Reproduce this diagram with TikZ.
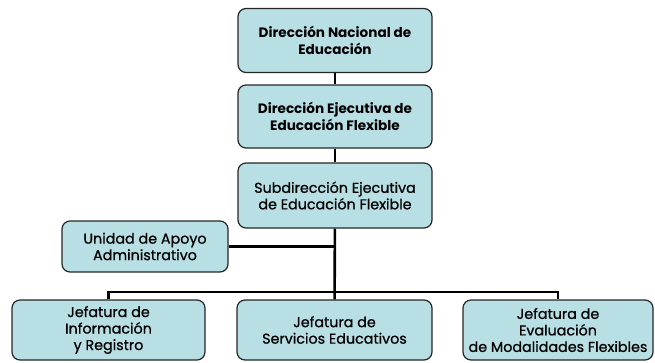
\documentclass[tikz,border=0pt]{standalone}
\usepackage{fontspec}
\setmainfont{Poppins}
\newfontfamily\medio[FakeBold=0.8]{Poppins}
\definecolor{cajaazul}{RGB}{183,223,228}
\tikzset{
  caja/.style={draw=black!85,line width=1.2pt,fill=cajaazul,rounded corners=8pt,
    align=center,inner sep=0pt,font=\fontsize{14.3}{16.5}\medio\selectfont},
  negrita/.style={font=\fontsize{13.6}{17}\bfseries\selectfont},
  linea/.style={line width=2.6pt,black}
}
\begin{document}
\begin{tikzpicture}[x=1pt,y=-1pt]
  \useasboundingbox (0,0) rectangle (655,362);
  \node[caja,negrita,minimum width=194,minimum height=64] (dne) at (335,40.5) {Dirección Nacional de\\Educación};
  \node[caja,negrita,minimum width=194,minimum height=63] (def) at (335,116.5) {Dirección Ejecutiva de\\Educación Flexible};
  \node[caja,minimum width=194,minimum height=65] (sef) at (335,195.5) {Subdirección Ejecutiva\\de Educación Flexible};
  \node[caja,minimum width=166,minimum height=51] (uaa) at (145,246.5) {Unidad de Apoyo\\Administrativo};
  \node[caja,minimum width=193,minimum height=60] (jir) at (108.5,330) {Jefatura de\\Información\\y Registro};
  \node[caja,minimum width=195,minimum height=60] (jse) at (334.5,330) {Jefatura de\\Servicios Educativos};
  \node[caja,minimum width=190,minimum height=60] (jem) at (558,330) {Jefatura de\\Evaluación\\de Modalidades Flexibles};
  \coordinate (bus) at (335,292);
  \draw[linea] (dne) -- (def);
  \draw[linea] (def) -- (sef);
  \draw[linea] (sef) -- (jse);
  \draw[linea] (uaa.east) -- (uaa.east -| sef);
  \draw[linea] (jir.north) |- (bus) -| (jem.north);
\end{tikzpicture}
\end{document}
